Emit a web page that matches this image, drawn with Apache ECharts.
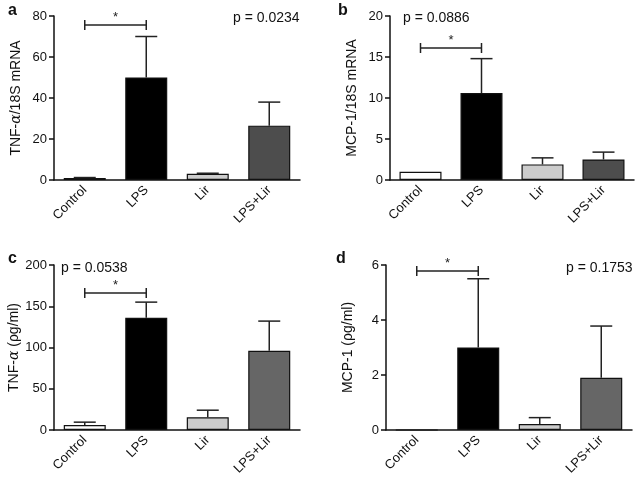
<!DOCTYPE html>
<html>
<head>
<meta charset="utf-8">
<script src="https://cdn.jsdelivr.net/npm/echarts@6/dist/echarts.min.js"></script>
<style>
  html, body { margin: 0; padding: 0; background: #fff; }
  #main { width: 638px; height: 478px; }
</style>
</head>
<body>
<div id="main"></div>
<script>
var categories = ['Control', 'LPS', 'Lir', 'LPS+Lir'];

// a: TNF-a/18S mRNA
var tnfMrnaMean = [1, 50, 3, 26.5];
var tnfMrnaUpper = [1.2, 70, 3.3, 38];
// b: MCP-1/18S mRNA
var mcpMrnaMean = [1, 10.6, 1.9, 2.5];
var mcpMrnaUpper = [1, 14.8, 2.7, 3.4];
// c: TNF-a protein
var tnfProtMean = [6, 136, 15.5, 96];
var tnfProtUpper = [9.5, 155, 24, 132];
// d: MCP-1 protein
var mcpProtMean = [0, 3.0, 0.22, 1.9];
var mcpProtUpper = [0, 5.5, 0.45, 3.78];

// significance bracket: [from category, to category, height]
var bracketA = [[0, 1, 75.6]];
var bracketB = [[0, 1, 16.1]];
var bracketC = [[0, 1, 166]];
var bracketD = [[0, 1, 5.78]];

var pTexts = ['p = 0.0234', 'p = 0.0886', 'p = 0.0538', 'p = 0.1753'];

var FONT = '"Liberation Sans", Arial, sans-serif';

var chart = echarts.init(document.getElementById('main'));

var panels = [
  { letter: 'a', mean: tnfMrnaMean, upper: tnfMrnaUpper, bracket: bracketA, max: 80, step: 20,
    name: '{t|TNF-}{i|α}{t|/18S mRNA}', grid: { left: 54, top: 16, width: 246, height: 164 },
    colors: ['#ffffff', '#000000', '#cccccc', '#4d4d4d'], letterPos: [8, 3], pPos: [233, 11] },
  { letter: 'b', mean: mcpMrnaMean, upper: mcpMrnaUpper, bracket: bracketB, max: 20, step: 5,
    name: '{t|MCP-1/18S mRNA}', grid: { left: 390, top: 16, width: 244, height: 164 },
    colors: ['#ffffff', '#000000', '#cccccc', '#4d4d4d'], letterPos: [338, 3], pPos: [403, 11] },
  { letter: 'c', mean: tnfProtMean, upper: tnfProtUpper, bracket: bracketC, max: 200, step: 50,
    name: '{t|TNF-}{i|α}{t| (ρg/ml)}', grid: { left: 54, top: 265, width: 246, height: 165 },
    colors: ['#ffffff', '#000000', '#cccccc', '#666666'], letterPos: [8, 251], pPos: [61, 261] },
  { letter: 'd', mean: mcpProtMean, upper: mcpProtUpper, bracket: bracketD, max: 6, step: 2,
    name: '{t|MCP-1 (ρg/ml)}', grid: { left: 386, top: 265, width: 246, height: 165 },
    colors: ['#ffffff', '#000000', '#cccccc', '#666666'], letterPos: [336, 251], pPos: [566, 261] }
];

function errorBarItem(params, api) {
  var x = api.value(0);
  var mean = api.value(1);
  var up = api.value(2);
  if (up <= mean) return null;
  var p0 = api.coord([x, mean]);
  var p1 = api.coord([x, up]);
  var st = { stroke: '#222', lineWidth: 1.5 };
  return {
    type: 'group',
    children: [
      { type: 'line', shape: { x1: p0[0], y1: p0[1], x2: p1[0], y2: p1[1] }, style: st },
      { type: 'line', shape: { x1: p1[0] - 11, y1: p1[1], x2: p1[0] + 11, y2: p1[1] }, style: st }
    ]
  };
}

function bracketItem(params, api) {
  var a = api.coord([api.value(0), api.value(2)]);
  var b = api.coord([api.value(1), api.value(2)]);
  var st = { stroke: '#222', lineWidth: 1.5 };
  return {
    type: 'group',
    children: [
      { type: 'line', shape: { x1: a[0], y1: a[1], x2: b[0], y2: b[1] }, style: st },
      { type: 'line', shape: { x1: a[0], y1: a[1] - 5, x2: a[0], y2: a[1] + 5 }, style: st },
      { type: 'line', shape: { x1: b[0], y1: b[1] - 5, x2: b[0], y2: b[1] + 5 }, style: st },
      { type: 'text', style: { text: '*', x: (a[0] + b[0]) / 2, y: a[1] - 1, align: 'center',
        verticalAlign: 'bottom', font: '13px ' + FONT, fill: '#222' } }
    ]
  };
}

var grids = [], xAxes = [], yAxes = [], series = [], titles = [];

panels.forEach(function (p, i) {
  grids.push(p.grid);
  xAxes.push({
    type: 'category', gridIndex: i, data: categories,
    axisLine: { lineStyle: { color: '#111', width: 1.5 } },
    axisTick: { alignWithLabel: true, length: 5, lineStyle: { color: '#111', width: 1.5 } },
    axisLabel: { rotate: 45, color: '#111', fontSize: 13, fontFamily: FONT, margin: 8, interval: 0 }
  });
  yAxes.push({
    type: 'value', gridIndex: i, min: 0, max: p.max, interval: p.step,
    name: p.name, nameLocation: 'middle', nameGap: 31,
    nameTextStyle: {
      rich: {
        t: { fontSize: 14, fontFamily: FONT, color: '#111' },
        i: { fontSize: 14, fontFamily: 'DejaVu Serif, serif', fontStyle: 'italic', color: '#111' }
      }
    },
    splitLine: { show: false },
    axisLine: { show: true, lineStyle: { color: '#111', width: 1.5 } },
    axisTick: { show: true, length: 5, lineStyle: { color: '#111', width: 1.5 } },
    axisLabel: { color: '#111', fontSize: 13, fontFamily: FONT, margin: 7 }
  });

  var barData = p.mean.map(function (v, k) {
    return { value: v, itemStyle: { color: p.colors[k] } };
  });
  series.push({
    type: 'bar', xAxisIndex: i, yAxisIndex: i, data: barData, barWidth: 42,
    itemStyle: { borderColor: '#111', borderWidth: 1.2 }
  });

  var errData = p.mean.map(function (v, k) { return [k, v, p.upper[k]]; });
  series.push({
    type: 'custom', xAxisIndex: i, yAxisIndex: i, renderItem: errorBarItem,
    data: errData, encode: { x: 0, y: [1, 2] }, z: 3
  });
  series.push({
    type: 'custom', xAxisIndex: i, yAxisIndex: i, renderItem: bracketItem,
    data: p.bracket, encode: { x: [0, 1], y: 2 }, clip: false, z: 3
  });

  titles.push({
    text: p.letter, left: p.letterPos[0], top: p.letterPos[1], padding: 0,
    textStyle: { fontSize: 16, fontWeight: 'bold', fontFamily: FONT, color: '#111' }
  });
  titles.push({
    text: pTexts[i], left: p.pPos[0], top: p.pPos[1], padding: 0,
    textStyle: { fontSize: 14, fontWeight: 'normal', fontFamily: FONT, color: '#111' }
  });
});

chart.setOption({
  animation: false,
  backgroundColor: '#ffffff',
  title: titles,
  grid: grids,
  xAxis: xAxes,
  yAxis: yAxes,
  series: series
});
</script>
</body>
</html>
